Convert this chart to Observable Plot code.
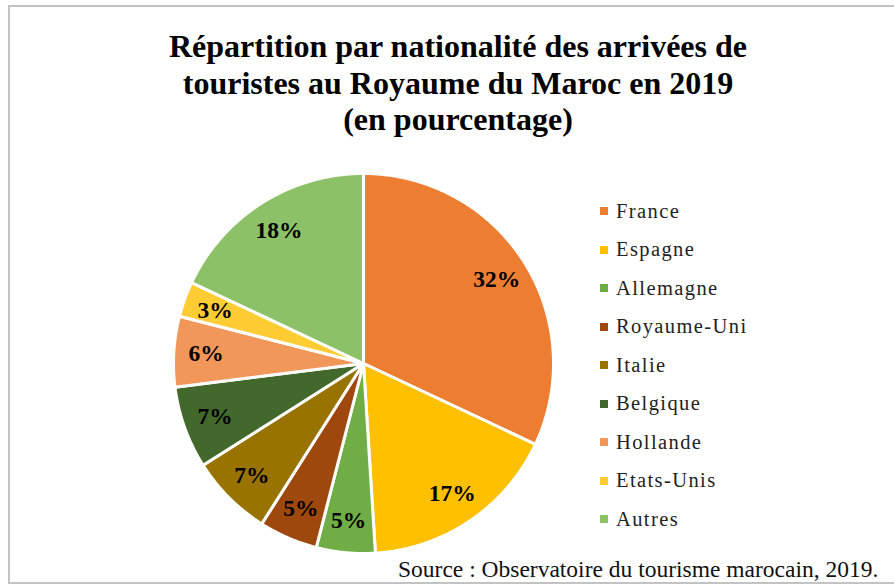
<!DOCTYPE html>
<html>
<head>
<meta charset="utf-8">
<script src="https://cdn.jsdelivr.net/npm/d3@7"></script>
<script src="https://cdn.jsdelivr.net/npm/@observablehq/plot@0.6"></script>
<style>
  html, body { margin: 0; padding: 0; background: #fff; }
  #wrap { position: relative; width: 894px; height: 585px; overflow: hidden; background: #fff; }
  #frame { position: absolute; left: 8px; top: 5px; width: 900px; height: 575px; border: 2px solid #c3c3c3; box-sizing: content-box; }
  #title { position: absolute; left: 108px; top: 28px; width: 700px; text-align: center;
           font: bold 32px "Liberation Serif", "Times New Roman", serif; line-height: 36.5px; color: #000; white-space: nowrap; }
  #chart { position: absolute; left: 0; top: 150px; }
  #legend { position: absolute; left: 600px; top: 192px; width: 260px; }
  #legend, #legend * { font-family: "Liberation Serif", "Times New Roman", serif !important; font-size: 20.5px !important; letter-spacing: 1.4px; color: #222 !important; }
  #legend > div { margin: 0 !important; }
  #legend > div > div { height: 38.5px !important; padding-bottom: 0 !important; display: flex !important; align-items: center !important; }
  #legend svg { margin-right: 8px !important; }
  #source { position: absolute; left: 398px; top: 556px; font: 23.5px "Liberation Serif", "Times New Roman", serif; color: #111; white-space: nowrap; }
</style>
</head>
<body>
<div id="wrap">
  <div id="frame"></div>
  <div id="title">Répartition par nationalité des arrivées de<br>touristes au Royaume du Maroc en 2019<br>(en pourcentage)</div>
  <div id="chart"></div>
  <div id="legend"></div>
  <div id="source">Source : Observatoire du tourisme marocain, 2019.</div>
</div>
<script>
const countries = ["France", "Espagne", "Allemagne", "Royaume-Uni", "Italie", "Belgique", "Hollande", "Etats-Unis", "Autres"];
const shares = [32, 17, 5, 5, 7, 7, 6, 3, 18];
const colors = ["#ED7D31", "#FFC000", "#70AD47", "#9E480E", "#997300", "#43682B", "#F1975A", "#FFCD33", "#8CC168"];

const pie = d3.pie().sort(null).value(d => d.value)(countries.map((name, i) => ({name, value: shares[i]})));

function ring(a0, a1) {
  const n = Math.max(2, Math.ceil((a1 - a0) / (Math.PI / 360)));
  const pts = [[0, 0]];
  for (let k = 0; k <= n; k++) {
    const a = a0 + (a1 - a0) * k / n;
    pts.push([Math.sin(a), Math.cos(a)]);
  }
  pts.push([0, 0]);
  return pts;
}

const slices = pie.map(p => ({
  type: "Feature",
  properties: {name: p.data.name, value: p.data.value},
  geometry: {type: "Polygon", coordinates: [ring(p.startAngle, p.endAngle)]}
}));

const disc = {type: "Feature", properties: {}, geometry: {type: "Polygon", coordinates: [ring(0, 2 * Math.PI)]}};

const labels = pie.map(p => {
  const m = (p.startAngle + p.endAngle) / 2;
  return {x: 0.83 * Math.sin(m), y: 0.83 * Math.cos(m), text: p.data.value + "%"};
});

const colorScale = {type: "ordinal", domain: countries, range: colors};

const chart = Plot.plot({
  width: 580,
  height: 420,
  marginLeft: 173,
  marginRight: 27,
  marginTop: 23,
  marginBottom: 17,
  projection: {type: () => d3.geoIdentity().reflectY(true), domain: disc},
  color: colorScale,
  marks: [
    Plot.geo(slices, {fill: d => d.properties.name, stroke: "#fff", strokeWidth: 3, strokeLinejoin: "round"}),
    Plot.text(labels, {x: "x", y: "y", text: "text", fontSize: 23.5, fontWeight: "bold", fill: "#000",
      fontFamily: "Liberation Serif, Times New Roman, serif"})
  ]
});
document.getElementById("chart").appendChild(chart);

const legend = Plot.legend({color: colorScale, columns: 1, swatchSize: 8});
document.getElementById("legend").appendChild(legend);
</script>
</body>
</html>
